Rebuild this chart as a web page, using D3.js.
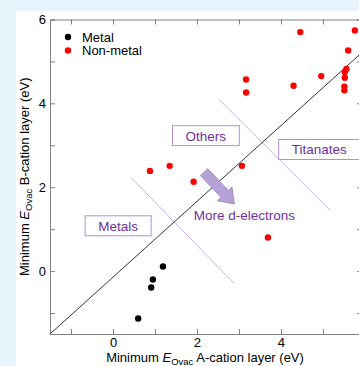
<!DOCTYPE html>
<html>
<head>
<meta charset="utf-8">
<script src="https://cdn.jsdelivr.net/npm/d3@7"></script>
<style>
  body { margin: 0; background: #e8f4fb; }
  svg { display: block; font-family: Arial, "Liberation Sans", sans-serif; }
</style>
</head>
<body>
<svg id="chart"></svg>
<script>
var width = 359;
var height = 366;

// values (eV)
var metalX = [1.19, 0.95, 0.91, 0.60];
var metalY = [0.11, -0.20, -0.39, -1.13];
var nonMetalX = [4.46, 5.76, 5.60, 4.96, 4.30, 5.56, 5.52, 5.52, 5.51, 5.51, 3.17, 3.17, 3.07, 0.88, 1.35, 1.92, 3.69];
var nonMetalY = [5.70, 5.74, 5.26, 4.65, 4.42, 4.82, 4.75, 4.61, 4.40, 4.31, 4.57, 4.26, 2.51, 2.39, 2.51, 2.13, 0.80];

var xTicks = [-1, 0, 1, 2, 3, 4, 5];
var yTicks = [-1, 0, 1, 2, 3, 4, 5, 6];
var labelTicks = [0, 2, 4, 6];

// reference guide lines, in data units
var diagLine = [[-1.5, -1.5], [6.8, 6]];
var boundaryLines = [
  [[0.43, 2.23], [2.89, -0.30]],
  [[2.51, 4.11], [5.17, 1.45]]
];
var groupBoxes = [
  { label: 'Others', x: 2.21, y: 3.23 },
  { label: 'Titanates', x: 4.91, y: 2.90 },
  { label: 'Metals', x: 0.12, y: 1.08 }
];
var arrowFrom = [2.17, 2.36];
var arrowTo = [2.89, 1.60];
var arrowText = { label: 'More d-electrons', x: 3.13, y: 1.22 };

var margin = { top: 19.5, right: -3, bottom: 32, left: 50 };

var svg = d3.select('#chart')
  .attr('width', width)
  .attr('height', height);

// white panel
svg.append('rect')
  .attr('x', 16).attr('y', 11)
  .attr('width', width - 16).attr('height', height - 11)
  .attr('fill', '#fff');

var x = d3.scaleLinear().domain([-1.5, 5.93]).range([margin.left, width - margin.right]);
var y = d3.scaleLinear().domain([-1.5, 6]).range([height - margin.bottom, margin.top]);

svg.append('clipPath').attr('id', 'plot-clip')
  .append('rect')
  .attr('x', x.range()[0]).attr('y', y.range()[1])
  .attr('width', x.range()[1] - x.range()[0])
  .attr('height', y.range()[0] - y.range()[1]);

var fmt = function(d) { return labelTicks.indexOf(d) >= 0 ? d : ''; };
var axisColor = '#808080';

function styleAxis(g) {
  g.select('.domain').attr('stroke', axisColor);
  g.selectAll('.tick line').attr('stroke', axisColor);
  g.selectAll('.tick text').attr('fill', '#000').style('font-size', '13px');
}

svg.append('g')
  .attr('transform', 'translate(0,' + y.range()[0] + ')')
  .call(d3.axisBottom(x).tickValues(xTicks).tickFormat(fmt).tickSize(-5).tickPadding(4))
  .call(styleAxis);
svg.append('g')
  .attr('transform', 'translate(0,' + y.range()[1] + ')')
  .call(d3.axisTop(x).tickValues(xTicks).tickFormat('').tickSize(-5))
  .call(styleAxis);
svg.append('g')
  .attr('transform', 'translate(' + x.range()[0] + ',0)')
  .call(d3.axisLeft(y).tickValues(yTicks).tickFormat(fmt).tickSize(-5).tickPadding(4))
  .call(styleAxis);
svg.append('g')
  .attr('transform', 'translate(' + x.range()[1] + ',0)')
  .call(d3.axisRight(y).tickValues(yTicks).tickFormat('').tickSize(-5))
  .call(styleAxis);

var line = d3.line()
  .x(function(d) { return x(d[0]); })
  .y(function(d) { return y(d[1]); });

var plot = svg.append('g').attr('clip-path', 'url(#plot-clip)');

plot.selectAll('path.boundary')
  .data(boundaryLines)
  .join('path')
  .attr('class', 'boundary')
  .attr('d', line)
  .attr('fill', 'none')
  .attr('stroke', '#c7b0ea')
  .attr('stroke-width', 1);

plot.append('path')
  .attr('d', line(diagLine))
  .attr('fill', 'none')
  .attr('stroke', '#333')
  .attr('stroke-width', 1);

// fat arrow
var ax0 = x(arrowFrom[0]), ay0 = y(arrowFrom[1]);
var ax1 = x(arrowTo[0]), ay1 = y(arrowTo[1]);
var len = Math.hypot(ax1 - ax0, ay1 - ay0);
var ang = Math.atan2(ay1 - ay0, ax1 - ax0) * 180 / Math.PI;
var sw = 5, hw = 10, hl = 14;
svg.append('path')
  .attr('transform', 'translate(' + ax0 + ',' + ay0 + ') rotate(' + ang + ')')
  .attr('d', 'M0,' + (-sw) + 'L' + (len - hl) + ',' + (-sw) + 'L' + (len - hl) + ',' + (-hw) +
    'L' + len + ',0L' + (len - hl) + ',' + hw + 'L' + (len - hl) + ',' + sw + 'L0,' + sw + 'Z')
  .attr('fill', '#b6a2d6')
  .attr('stroke', '#9a80c6')
  .attr('stroke-width', 0.8);

svg.append('text')
  .attr('x', x(arrowText.x)).attr('y', y(arrowText.y))
  .attr('text-anchor', 'middle')
  .attr('fill', '#7030a0')
  .style('font-size', '13.5px')
  .text(arrowText.label);

var boxes = svg.selectAll('g.group-box')
  .data(groupBoxes)
  .join('g')
  .attr('class', 'group-box')
  .attr('transform', function(d) { return 'translate(' + x(d.x) + ',' + y(d.y) + ')'; });
boxes.append('text')
  .attr('text-anchor', 'middle')
  .attr('dy', '0.36em')
  .attr('fill', '#7030a0')
  .style('font-size', '13.5px')
  .text(function(d) { return d.label; });
boxes.insert('rect', 'text')
  .each(function() {
    var bb = this.parentNode.querySelector('text').getBBox();
    d3.select(this)
      .attr('x', bb.x - 13).attr('y', -10)
      .attr('width', bb.width + 26).attr('height', 20);
  })
  .attr('fill', '#fff')
  .attr('stroke', '#b58ddb')
  .attr('stroke-width', 1);

svg.selectAll('circle.metal')
  .data(d3.range(metalX.length))
  .join('circle')
  .attr('class', 'metal')
  .attr('cx', function(i) { return x(metalX[i]); })
  .attr('cy', function(i) { return y(metalY[i]); })
  .attr('r', 3.2)
  .attr('fill', '#000');

svg.selectAll('circle.nonmetal')
  .data(d3.range(nonMetalX.length))
  .join('circle')
  .attr('class', 'nonmetal')
  .attr('cx', function(i) { return x(nonMetalX[i]); })
  .attr('cy', function(i) { return y(nonMetalY[i]); })
  .attr('r', 3.2)
  .attr('fill', '#ff0000');

// legend
var legend = svg.append('g').attr('transform', 'translate(68,37)');
[['Metal', '#000'], ['Non-metal', '#ff0000']].forEach(function(d, i) {
  legend.append('circle').attr('cx', 0).attr('cy', i * 13.5).attr('r', 3.2).attr('fill', d[1]);
  legend.append('text')
    .attr('x', 14).attr('y', i * 13.5)
    .attr('dy', '0.36em')
    .style('font-size', '13px')
    .text(d[0]);
});

// axis titles with italic E and subscript
function axisTitle(sel, suffix) {
  sel.append('tspan').text('Minimum ');
  sel.append('tspan').style('font-style', 'italic').text('E');
  sel.append('tspan').attr('dy', 3).style('font-size', '9.5px').text('Ovac');
  sel.append('tspan').attr('dy', -3).text(' ' + suffix);
}

svg.append('text')
  .attr('x', (x.range()[0] + x.range()[1]) / 2 - 1)
  .attr('y', 362)
  .attr('text-anchor', 'middle')
  .style('font-size', '13px')
  .call(axisTitle, 'A-cation layer (eV)');

svg.append('text')
  .attr('transform', 'translate(29,' + ((y.range()[0] + y.range()[1]) / 2) + ') rotate(-90)')
  .attr('text-anchor', 'middle')
  .style('font-size', '13px')
  .call(axisTitle, 'B-cation layer (eV)');
</script>
</body>
</html>
